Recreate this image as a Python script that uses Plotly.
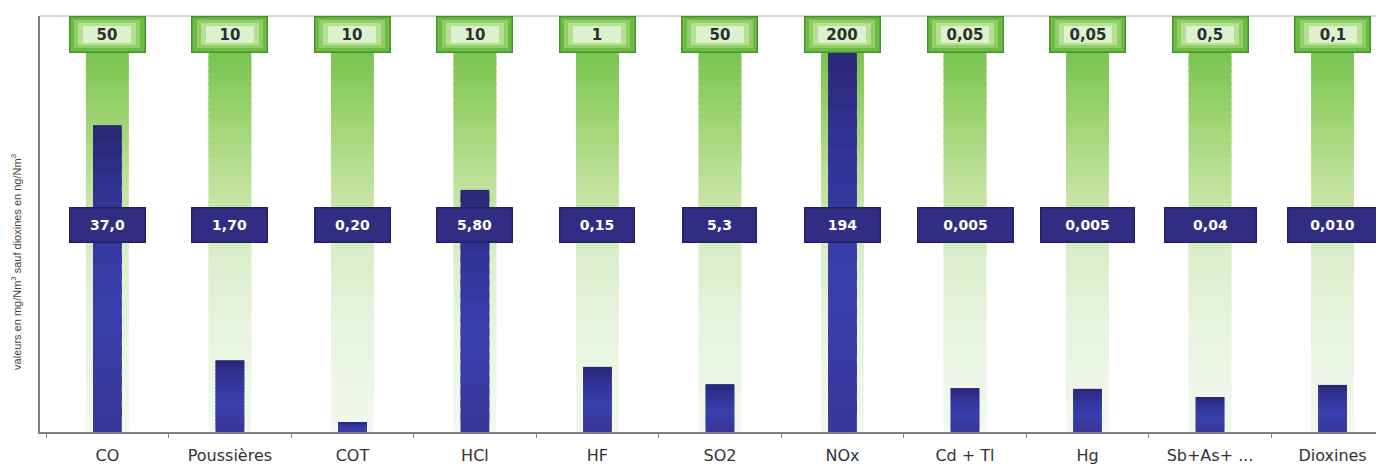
import plotly.graph_objects as go

# ---------------- data ----------------
categories = ["CO", "Poussières", "COT", "HCl", "HF", "SO2", "NOx",
              "Cd + Tl", "Hg", "Sb+As+ ...<br>+V", "Dioxines"]
limit_values = [50, 10, 10, 10, 1, 50, 200, 0.05, 0.05, 0.5, 0.1]
limit_labels = ["50", "10", "10", "10", "1", "50", "200", "0,05", "0,05", "0,5", "0,1"]
measured_values = [37.0, 1.70, 0.20, 5.80, 0.15, 5.3, 194, 0.005, 0.005, 0.04, 0.010]
measured_labels = ["37,0", "1,70", "0,20", "5,80", "0,15", "5,3", "194",
                   "0,005", "0,005", "0,04", "0,010"]
# bar heights as drawn in the picture (percent of the limit value)
bar_pct = [78.2, 18.3, 2.5, 61.7, 16.6, 12.2, 96.8, 11.2, 11.0, 8.9, 12.0]
y_title = "valeurs en mg/Nm<sup>3</sup> sauf dioxines en ng/Nm<sup>3</sup>"

# ---------------- helpers ----------------
def hex2rgb(h):
    h = h.lstrip("#")
    return tuple(int(h[i:i + 2], 16) for i in (0, 2, 4))


def grad(stops, t):
    for (p0, c0), (p1, c1) in zip(stops, stops[1:]):
        if p0 <= t <= p1:
            f = (t - p0) / (p1 - p0) if p1 > p0 else 0
            a, b = hex2rgb(c0), hex2rgb(c1)
            return "rgb(%d,%d,%d)" % tuple(round(a[i] + (b[i] - a[i]) * f) for i in range(3))
    return stops[-1][1]


green_stops = [(0.0, "#f2f9f1"), (0.30, "#e6f3dc"), (0.45, "#dbeecb"),
               (0.55, "#cde8ae"), (0.70, "#b3dc8c"), (0.85, "#92cf66"), (1.0, "#72c14a")]
blue_stops = [(0.0, "#383597"), (0.40, "#3840ad"), (0.75, "#313396"), (1.0, "#2a2775")]

fig = go.Figure()

# green limit columns (vertical gradient built from stacked slices)
N = 60
limit_pct = [100 * lv / lv for lv in limit_values]
for k in range(N):
    fig.add_trace(go.Bar(
        x=categories,
        y=[h / N * 1.5 for h in limit_pct],
        base=[h * k / N for h in limit_pct],
        width=0.35,
        marker=dict(color=grad(green_stops, (k + 0.5) / N), line=dict(width=0)),
        hoverinfo="skip", showlegend=False))

# blue measured bars (gradient slices)
M = 20
for k in range(M):
    fig.add_trace(go.Bar(
        x=categories,
        y=[h / M * (1.0 if k == M - 1 else 1.6) for h in bar_pct],
        base=[h * k / M for h in bar_pct],
        width=0.235,
        marker=dict(color=grad(blue_stops, (k + 0.5) / M), line=dict(width=0)),
        hoverinfo="skip", showlegend=False))

annotations = []
# green limit boxes (layered to imitate the glow)
glow = [(74, 34, "#6abd42"), (66, 28, "#8fcf66"), (58, 22, "#b6e094"), (48, 17, "#dcf1cc")]
for c, lab in zip(categories, limit_labels):
    for i, (w, h, col) in enumerate(glow):
        last = i == len(glow) - 1
        annotations.append(dict(
            x=c, y=101.3, xref="x", yref="y",
            text="<b>%s</b>" % lab if last else " ",
            showarrow=False, width=w, height=h, bgcolor=col,
            bordercolor="#4a8f33" if i == 0 else col,
            borderwidth=1.5 if i == 0 else 0, borderpad=0,
            font=dict(family="DejaVu Sans", size=15, color="#2e2e2e")))

# navy measured-value boxes
mid_box_w = [74, 74, 74, 74, 73, 72, 74, 94, 92, 90, 88]
for c, lab, w in zip(categories, measured_labels, mid_box_w):
    annotations.append(dict(x=c, y=52.8, xref="x", yref="y", text="<b>%s</b>" % lab,
                            showarrow=False, width=w, height=33, bgcolor="#302d82",
                            bordercolor="#232064", borderwidth=1.5, borderpad=0,
                            font=dict(family="DejaVu Sans", size=14, color="#ffffff")))

annotations.append(dict(x=-0.0175, y=0.41, xref="paper", yref="paper", text=y_title,
                        textangle=-90, showarrow=False, xanchor="center", yanchor="middle",
                        font=dict(family="Liberation Sans", size=11, color="#444444")))

fig.update_layout(
    width=1376, height=460,
    margin=dict(l=32, r=0, t=8, b=36),
    paper_bgcolor="white", plot_bgcolor="white",
    barmode="overlay",
    annotations=annotations,
    shapes=[dict(type="line", xref="paper", yref="paper", x0=0, x1=1, y0=1.0, y1=1.0,
                 line=dict(color="#b0aaa6", width=1))],
    xaxis=dict(range=[-0.55, 10.42], showline=True, linecolor="#8a7d76", linewidth=2,
               ticks="outside", tickson="boundaries", ticklen=4, tickcolor="#8a7d76",
               ticklabelstandoff=8, automargin=False,
               showgrid=False, zeroline=False,
               tickfont=dict(family="DejaVu Sans", size=16, color="#333333")),
    yaxis=dict(range=[0, 106], showline=True, linecolor="#8a7d76", linewidth=1.5,
               automargin=False,
               showticklabels=False, ticks="", showgrid=False, zeroline=False),
)

fig.write_html("out.html")
